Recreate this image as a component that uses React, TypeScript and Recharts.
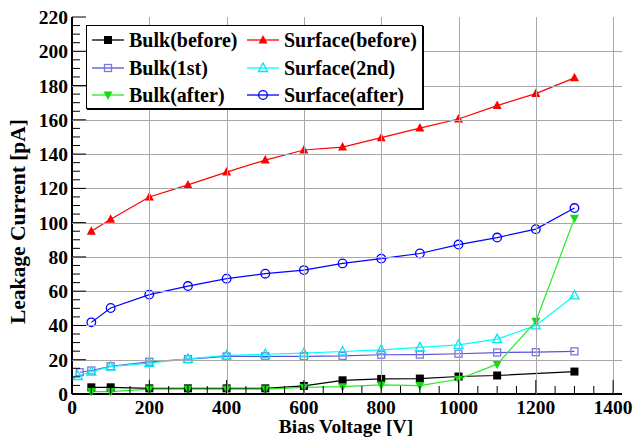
import React from 'react';
import { LineChart, Line, XAxis, YAxis } from 'recharts';

// bias voltages [V]
const xMain = [50, 100, 200, 300, 400, 500, 600, 700, 800, 900, 1000, 1100, 1200, 1300];
const xBulkBefore = [50, 100, 200, 300, 400, 500, 600, 700, 800, 900, 1000, 1100, 1300];
const xBulk1st = [20, 50, 100, 200, 300, 400, 500, 600, 700, 800, 900, 1000, 1100, 1200, 1300];
const xSurface2nd = [15, 50, 100, 200, 300, 400, 500, 600, 700, 800, 900, 1000, 1100, 1200, 1300];

// leakage current [pA]
const bulkBefore = [3.9, 3.9, 3.3, 3.3, 3.3, 3.3, 4.7, 8, 8.8, 9, 10.2, 10.8, 13.1];
const surfaceBefore = [95, 102, 115, 122, 129.5, 136.5, 142.4, 144.1, 149.6, 155.2, 160.5, 168.3, 175.3, 184.5];
const bulk1st = [12.7, 13.7, 16.2, 18.8, 20.3, 21.9, 22, 22, 22.2, 22.9, 23, 23.5, 24.2, 24.4, 24.9];
const surface2nd = [10.5, 13, 16, 18, 20.5, 22.5, 23.2, 23.8, 24.8, 25.8, 27.2, 28.7, 32, 40, 57.5];
const bulkAfter = [1.4, 1.4, 2.9, 2.9, 2.9, 2.9, 3.9, 4.3, 5.3, 4.9, 8.6, 17.4, 42.4, 102.5];
const surfaceAfter = [41.8, 50.2, 58, 63, 67.3, 70.2, 72.3, 76.2, 79, 82, 87.2, 91.3, 96.2, 108.5];

const xTicks = Array.from({ length: 29 }, (_, i) => i * 50);
const yTicks = Array.from({ length: 45 }, (_, i) => i * 5);

const FONT = "'Liberation Serif', 'Times New Roman', serif";
const W = 642;
const H = 437;
const M = { top: 17, right: 20, left: 0, bottom: 0 };
const Y_AXIS_W = 72;
const X_AXIS_H = 43;
const PLOT_W = W - M.left - M.right - Y_AXIS_W;
const PLOT_H = H - M.top - M.bottom - X_AXIS_H;
const GRID_COLOR = '#a8a8a8';

type MarkerKind = 'squareFill' | 'squareOpen' | 'triUpFill' | 'triUpOpen' | 'triDownFill' | 'circleOpen';

const series = [
  { name: 'Bulk(before)', xs: xBulkBefore, ys: bulkBefore, line: '#000000', mark: '#000000', kind: 'squareFill' as MarkerKind },
  { name: 'Surface(before)', xs: xMain, ys: surfaceBefore, line: '#ff0000', mark: '#ff0000', kind: 'triUpFill' as MarkerKind },
  { name: 'Bulk(1st)', xs: xBulk1st, ys: bulk1st, line: '#5954d8', mark: '#7b78e6', kind: 'squareOpen' as MarkerKind },
  { name: 'Surface(2nd)', xs: xSurface2nd, ys: surface2nd, line: '#00ffff', mark: '#00e8f0', kind: 'triUpOpen' as MarkerKind },
  { name: 'Bulk(after)', xs: xMain, ys: bulkAfter, line: '#22ee22', mark: '#11dd11', kind: 'triDownFill' as MarkerKind },
  { name: 'Surface(after)', xs: xMain, ys: surfaceAfter, line: '#0000ff', mark: '#0000ff', kind: 'circleOpen' as MarkerKind },
];

function Marker({ cx, cy, kind, color }: { cx: number; cy: number; kind: MarkerKind; color: string }) {
  switch (kind) {
    case 'squareFill':
      return <rect x={cx - 4} y={cy - 4} width={8} height={8} fill={color} />;
    case 'squareOpen':
      return <rect x={cx - 3.5} y={cy - 3.5} width={7} height={7} fill="none" stroke={color} strokeWidth={1.3} />;
    case 'triUpFill':
      return <polygon points={`${cx},${cy - 5} ${cx - 4.5},${cy + 3.5} ${cx + 4.5},${cy + 3.5}`} fill={color} />;
    case 'triUpOpen':
      return (
        <polygon
          points={`${cx},${cy - 5} ${cx - 4.5},${cy + 3.5} ${cx + 4.5},${cy + 3.5}`}
          fill="none"
          stroke={color}
          strokeWidth={1.3}
        />
      );
    case 'triDownFill':
      return <polygon points={`${cx},${cy + 5} ${cx - 4.5},${cy - 3.5} ${cx + 4.5},${cy - 3.5}`} fill={color} />;
    default:
      return <circle cx={cx} cy={cy} r={4.3} fill="none" stroke={color} strokeWidth={1.3} />;
  }
}

// ticks point inward (ROOT style); major ticks also carry the grid line
const XTick = (props: any) => {
  const { x, y, payload } = props;
  const major = payload.value % 200 === 0;
  const gx = Math.round(x) + 0.5;
  return (
    <g>
      {major && payload.value > 0 && (
        <line x1={gx} x2={gx} y1={y} y2={y - PLOT_H} stroke={GRID_COLOR} strokeWidth={1} />
      )}
      <line x1={x} x2={x} y1={y} y2={y - (major ? 14 : 8)} stroke="#000" strokeWidth={1} />
      {major && (
        <text x={x} y={y + 20} textAnchor="middle" fontFamily={FONT} fontWeight="bold" fontSize={19.5} fill="#000">
          {payload.value}
        </text>
      )}
    </g>
  );
};

const YTick = (props: any) => {
  const { x, y, payload } = props;
  const major = payload.value % 20 === 0;
  const gy = Math.round(y) + 0.5;
  return (
    <g>
      {major && payload.value > 0 && payload.value < 220 && (
        <line x1={x} x2={x + PLOT_W} y1={gy} y2={gy} stroke={GRID_COLOR} strokeWidth={1} />
      )}
      <line x1={x} x2={x + (major ? 14 : 8)} y1={y} y2={y} stroke="#000" strokeWidth={1} />
      {major && (
        <text x={x - 4} y={y + 7} textAnchor="end" fontFamily={FONT} fontWeight="bold" fontSize={19.5} fill="#000">
          {payload.value}
        </text>
      )}
    </g>
  );
};

function LegendBox() {
  return (
    <div
      style={{
        position: 'absolute',
        left: 86,
        top: 25,
        width: 335,
        height: 82,
        background: '#fff',
        border: '1px solid #000',
        boxShadow: '1px 1px 0 #000',
        fontFamily: FONT,
        fontWeight: 'bold',
        fontSize: 20,
      }}
    >
      {series.map((s, i) => {
        const col = i % 2;
        const row = Math.floor(i / 2);
        const left = col ? 160 : 5;
        const top = 14 + row * 27.5;
        return (
          <div key={s.name} style={{ position: 'absolute', left, top: top - 12, height: 24, display: 'flex', alignItems: 'center' }}>
            <svg width={32} height={24} style={{ display: 'block' }}>
              <line x1={0} x2={32} y1={12} y2={12} stroke={s.line} strokeWidth={1.3} />
              <Marker cx={16} cy={12} kind={s.kind} color={s.mark} />
            </svg>
            <span style={{ marginLeft: 5, lineHeight: '24px', whiteSpace: 'nowrap' }}>{s.name}</span>
          </div>
        );
      })}
    </div>
  );
}

export default function App() {
  return (
    <div style={{ position: 'absolute', left: 0, top: 0, width: W, height: H, background: '#fff' }}>
      <LineChart width={W} height={H} margin={M}>
        <XAxis
          xAxisId="b"
          type="number"
          dataKey="x"
          domain={[0, 1423]}
          ticks={xTicks}
          interval={0}
          height={X_AXIS_H}
          tickSize={0}
          tickMargin={0}
          tickLine={false}
          axisLine={{ stroke: '#000', strokeWidth: 2 }}
          tick={<XTick />}
          allowDataOverflow
          label={(p: any) => (
            <text
              x={346}
              y={p.viewBox.y + 39}
              textAnchor="middle"
              fontFamily={FONT}
              fontWeight="bold"
              fontSize={19.5}
              fill="#000"
            >
              Bias Voltage [V]
            </text>
          )}
        />
        <XAxis
          xAxisId="t"
          orientation="top"
          type="number"
          dataKey="x"
          domain={[0, 1423]}
          height={0}
          tick={false}
          tickLine={false}
          axisLine={{ stroke: '#000', strokeWidth: 1 }}
        />
        <YAxis
          yAxisId="l"
          type="number"
          domain={[0, 220]}
          ticks={yTicks}
          interval={0}
          width={Y_AXIS_W}
          tickSize={0}
          tickMargin={0}
          tickLine={false}
          axisLine={{ stroke: '#000', strokeWidth: 2 }}
          tick={<YTick />}
          label={(p: any) => {
            const cy = p.viewBox.y + p.viewBox.height / 2 + 16;
            return (
              <text
                x={25}
                y={cy}
                transform={`rotate(-90 25 ${cy})`}
                textAnchor="middle"
                fontFamily={FONT}
                fontWeight="bold"
                fontSize={21.5}
                fill="#000"
              >
                Leakage Current [pA]
              </text>
            );
          }}
        />
        <YAxis
          yAxisId="r"
          orientation="right"
          type="number"
          domain={[0, 220]}
          width={0}
          tick={false}
          tickLine={false}
          axisLine={{ stroke: '#000', strokeWidth: 1 }}
        />
        {series.map((s) => (
          <Line
            key={s.name}
            xAxisId="b"
            yAxisId="l"
            data={s.xs.map((x, i) => ({ x, y: s.ys[i] }))}
            dataKey="y"
            name={s.name}
            stroke={s.line}
            strokeWidth={1.2}
            isAnimationActive={false}
            dot={(p: any) => <Marker key={`${s.name}-${p.index}`} cx={p.cx} cy={p.cy} kind={s.kind} color={s.mark} />}
            activeDot={false}
          />
        ))}
      </LineChart>
      <LegendBox />
    </div>
  );
}
